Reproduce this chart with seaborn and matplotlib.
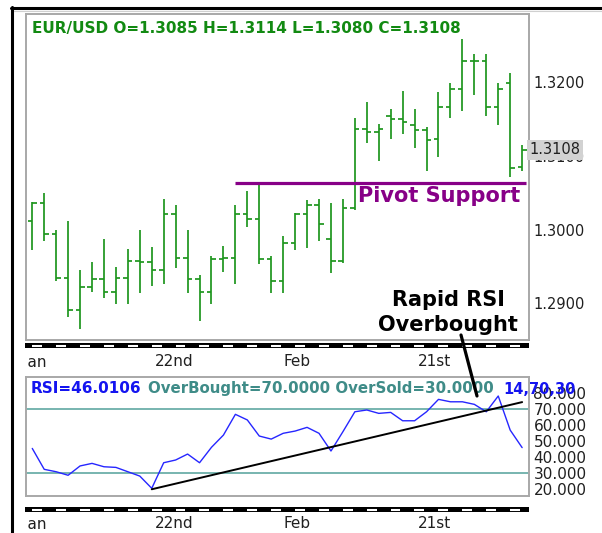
import numpy as np
import pandas as pd
import matplotlib
matplotlib.use('Agg')
import matplotlib.pyplot as plt
from matplotlib.lines import Line2D
from matplotlib.transforms import blended_transform_factory
import seaborn as sns

# OHLC bars (oldest first)
opens = [1.3012, 1.3036, 1.2994, 1.2935, 1.2891, 1.2922, 1.2933, 1.2915, 1.2935, 1.2958,
         1.2956, 1.2946, 1.3021, 1.2962, 1.2933, 1.2916, 1.2960, 1.2962, 1.3021, 1.3014,
         1.2960, 1.2931, 1.2982, 1.3021, 1.3034, 1.2988, 1.2957, 1.3029, 1.3136, 1.3132,
         1.3154, 1.3150, 1.3142, 1.3135, 1.3123, 1.3166, 1.3190, 1.3228, 1.3228, 1.3166,
         1.3199, 1.3085]
highs = [1.3038, 1.3050, 1.3000, 1.3012, 1.2945, 1.2956, 1.2988, 1.2949, 1.2974, 1.3000,
         1.2976, 1.3042, 1.3034, 1.3000, 1.2938, 1.2964, 1.2978, 1.3034, 1.3052, 1.3063,
         1.2964, 1.2991, 1.3023, 1.3040, 1.3042, 1.3036, 1.3042, 1.3151, 1.3173, 1.3143,
         1.3163, 1.3188, 1.3163, 1.3139, 1.3187, 1.3198, 1.3258, 1.3238, 1.3238, 1.3199,
         1.3212, 1.3114]
lows = [1.2972, 1.2985, 1.2930, 1.2881, 1.2865, 1.2916, 1.2907, 1.2899, 1.2899, 1.2914,
        1.2923, 1.2927, 1.2948, 1.2914, 1.2876, 1.2899, 1.2943, 1.2926, 1.3004, 1.2953,
        1.2914, 1.2914, 1.2972, 1.2975, 1.2984, 1.2941, 1.2955, 1.3026, 1.3118, 1.3093,
        1.3123, 1.3129, 1.3111, 1.3080, 1.3099, 1.3151, 1.3161, 1.3182, 1.3154, 1.3142,
        1.3071, 1.3080]
closes = [1.3036, 1.2994, 1.2935, 1.2891, 1.2922, 1.2933, 1.2915, 1.2935, 1.2958, 1.2956,
          1.2946, 1.3021, 1.2962, 1.2933, 1.2916, 1.2960, 1.2962, 1.3021, 1.3014, 1.2960,
          1.2931, 1.2982, 1.3021, 1.3034, 1.3007, 1.2957, 1.3029, 1.3136, 1.3132, 1.3136,
          1.3150, 1.3146, 1.3135, 1.3121, 1.3166, 1.3190, 1.3228, 1.3228, 1.3166, 1.3190,
          1.3084, 1.3108]

# 14-period RSI per bar
rsi = [45.5, 32.5, 31.0, 28.8, 34.6, 36.2, 34.1, 33.7, 31.0, 28.3,
       20.7, 36.6, 38.3, 42.0, 36.6, 46.2, 53.8, 66.7, 63.2, 53.2,
       51.3, 54.9, 56.3, 58.6, 54.9, 43.9, 55.9, 68.3, 69.4, 67.3,
       67.9, 62.7, 62.7, 68.3, 76.0, 74.5, 74.5, 72.9, 68.3, 78.1,
       56.9, 46.0]

# RSI trendline (bar index, value)
trend_x = [10, 41]
trend_y = [20.1, 74.3]

pivot = 1.3063
pivot_from, pivot_to = 17, 41.35
overbought, oversold = 70, 30

date_pos = [0.25, 11.84, 22.2, 33.7]
date_lbl = ['Jan', '22nd', 'Feb', '21st']

price_ticks = [1.29, 1.30, 1.31, 1.32]
rsi_ticks = [20, 30, 40, 50, 60, 70, 80]

GREEN = '#1e961e'
TITLE_GREEN = '#128a12'
PURPLE = '#870087'
TEAL = '#52a09a'
TEAL_TXT = '#3f8c88'
BLUE = '#2626ff'
SPINE = '#a8a8a8'

idx = np.arange(len(opens))
xlim = (-0.55, 41.6)

sns.set_style('white')
plt.rcParams['font.family'] = ['DejaVu Sans']

W, H = 602, 533
fig = plt.figure(figsize=(W / 100, H / 100), dpi=100)


def box(l, t, r, b):
    return [l / W, 1 - b / H, (r - l) / W, (b - t) / H]


def fx(px):
    return px / W


def fy(py):
    return 1 - py / H


# ---- price panel
ax = fig.add_axes(box(25.7, 14, 529.3, 339.5))
ax.vlines(idx, lows, highs, color=GREEN, lw=1.25)
ax.hlines(opens, idx - 0.38, idx, color=GREEN, lw=1.25)
ax.hlines(closes, idx, idx + 0.38, color=GREEN, lw=1.25)
ax.hlines(pivot, pivot_from, pivot_to, color=PURPLE, lw=2.3, zorder=4)
ax.set_xlim(*xlim)
ax.set_ylim(1.28512, 1.32921)
ax.set_xticks([])
ax.yaxis.tick_right()
ax.set_yticks(price_ticks)
ax.set_yticklabels([f'{v:.4f}' for v in price_ticks])
ax.tick_params(axis='y', length=0, pad=3, labelsize=10.5, colors='#202020')
for s in ax.spines.values():
    s.set_color(SPINE)
    s.set_linewidth(1.4)
ax.text(1.0, closes[-1], f'{closes[-1]:.4f}', transform=blended_transform_factory(ax.transAxes, ax.transData),
        ha='left', va='center', fontsize=10.5, color='#202020', zorder=10, clip_on=False,
        bbox=dict(boxstyle='square,pad=0.18', fc='#d2d2d2', ec='none'))

# ---- RSI panel
ax2 = fig.add_axes(box(25.7, 376.7, 529.3, 495.7))
ax2.axhline(overbought, color=TEAL, lw=1.1)
ax2.axhline(oversold, color=TEAL, lw=1.1)
rsi_df = pd.DataFrame({'bar': idx, 'rsi': rsi})
sns.lineplot(data=rsi_df, x='bar', y='rsi', color=BLUE, lw=1.0, ax=ax2)
sns.lineplot(x=trend_x, y=trend_y, color='black', lw=1.4, ax=ax2)
ax2.set_xlim(*xlim)
ax2.set_ylim(16.1, 90.1)
ax2.set_xticks([])
ax2.set_xlabel('')
ax2.set_ylabel('')
ax2.yaxis.tick_right()
ax2.set_yticks(rsi_ticks)
ax2.set_yticklabels([f'{v:.3f}' for v in rsi_ticks])
ax2.tick_params(axis='y', length=0, pad=3, labelsize=11, colors='#202020')
for s in ax2.spines.values():
    s.set_color(SPINE)
    s.set_linewidth(1.4)

# ---- time strips and date labels
seg = idx[::2]
for top, lab_top in [(342.7, 352), (506.7, 514)]:
    st = fig.add_axes(box(25.0, top, 528.5, top + 5.6))
    st.set_facecolor('black')
    st.hlines(np.full(len(seg), 0.5), seg + 0.05, seg + 0.88, color='white', lw=1.5)
    st.set_xlim(*xlim)
    st.set_ylim(0, 1)
    st.set_xticks([])
    st.set_yticks([])
    for s in st.spines.values():
        s.set_visible(False)
    lab = fig.add_axes(box(27.8, lab_top, 529.3, lab_top + 20))
    lab.set_xlim((27.8 - 32.3) / 11.95, xlim[1])
    lab.set_ylim(0, 1)
    lab.axis('off')
    for p, t in zip(date_pos, date_lbl):
        lab.text(p, 0.5, t, ha='center', va='center', fontsize=11, color='#202020', clip_on=True)

# ---- texts
fig.text(fx(32), fy(32.7), 'EUR/USD O=1.3085 H=1.3114 L=1.3080 C=1.3108', color=TITLE_GREEN,
         fontsize=11, fontweight='bold', va='baseline')
fig.text(fx(358.3), fy(201.7), 'Pivot Support', color=PURPLE, fontsize=15, fontweight='bold', va='baseline')
fig.text(fx(448), fy(306), 'Rapid RSI', color='black', fontsize=15, fontweight='bold', va='baseline', ha='center')
fig.text(fx(448), fy(331), 'Overbought', color='black', fontsize=15, fontweight='bold', va='baseline', ha='center')
fig.text(fx(31), fy(393.3), 'RSI=46.0106', color='#1414f0', fontsize=11, fontweight='bold', va='baseline')
fig.text(fx(147.7), fy(393.3), 'OverBought=70.0000 OverSold=30.0000', color=TEAL_TXT, fontsize=10.8,
         fontweight='bold', va='baseline')
fig.text(fx(503.3), fy(394), '14,70,30', color='#1414f0', fontsize=10.5, fontweight='bold', va='baseline', zorder=10)

# pointer from the label to the RSI cross
fig.add_artist(Line2D([fx(461), fx(477)], [fy(335), fy(396)], color='black', lw=2.3, zorder=9))

# window frame
fig.add_artist(Line2D([fx(11), fx(602)], [fy(8), fy(8)], color='black', lw=2.2))
fig.add_artist(Line2D([fx(14), fx(602)], [fy(11), fy(11)], color='#d0d0d0', lw=0.8))
fig.add_artist(Line2D([fx(12), fx(12)], [fy(7), fy(533)], color='black', lw=2.2))

fig.savefig('out.png', dpi=100, facecolor='white')
